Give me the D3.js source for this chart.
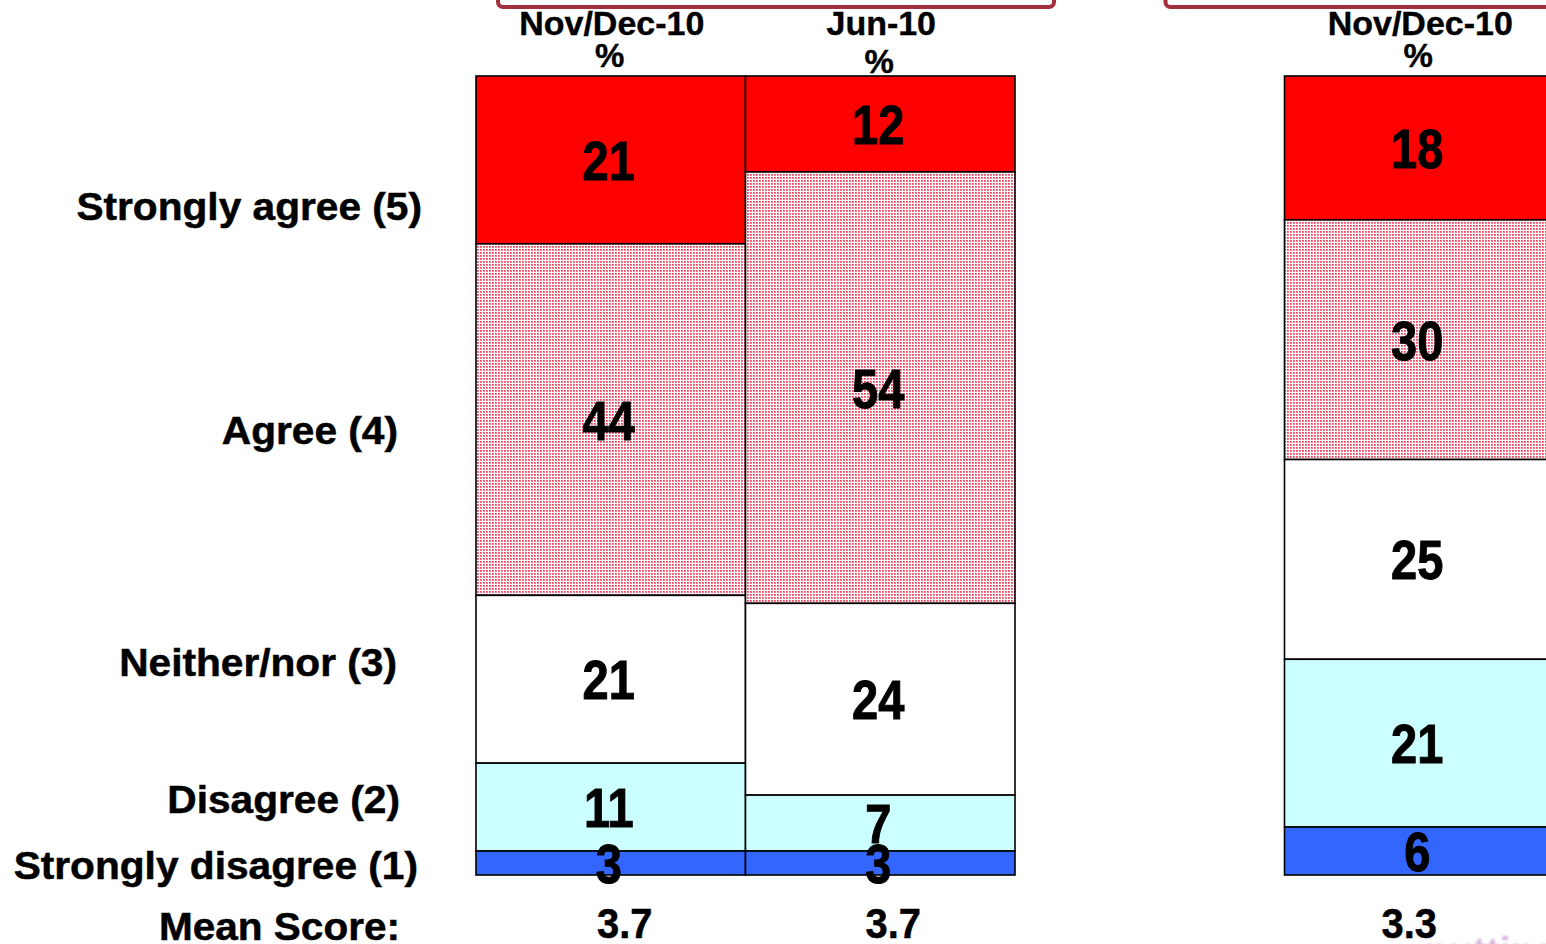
<!DOCTYPE html>
<html>
<head>
<meta charset="utf-8">
<script src="https://cdn.jsdelivr.net/npm/d3@7"></script>
<style>
  html, body { margin: 0; padding: 0; background: #ffffff; }
  svg { display: block; }
  text { font-family: "Liberation Sans", Arial, sans-serif; font-weight: bold; fill: #000; }
</style>
</head>
<body>
<svg id="chart" width="1546" height="944"></svg>
<script>
// Response categories, top of the stack first
const categories = ["Strongly agree (5)", "Agree (4)", "Neither/nor (3)", "Disagree (2)", "Strongly disagree (1)"];
// Survey waves (one stacked column each); the empty slot separates the two panels
const waves = ["Nov/Dec-10", "Jun-10", "Nov/Dec-10"];
const slots = ["a", "b", "gap", "c"];
const waveSlot = ["a", "b", "c"];
// Percentages per category, one value per wave
const stronglyAgree    = [21, 12, 18];
const agree            = [44, 54, 30];
const neither          = [21, 24, 25];
const disagree         = [11, 7, 21];
const stronglyDisagree = [3, 3, 6];
const meanScores       = ["3.7", "3.7", "3.3"];
const meanLabel = "Mean Score:";

const seriesValues = [stronglyAgree, agree, neither, disagree, stronglyDisagree];

const svg = d3.select("#chart");
const defs = svg.append("defs");

// fine dotted fill used for "Agree"
const pat = defs.append("pattern")
  .attr("id", "dots").attr("patternUnits", "userSpaceOnUse")
  .attr("width", 3).attr("height", 3);
pat.append("rect").attr("width", 3).attr("height", 3).attr("fill", "#ffffff")
  .attr("shape-rendering", "crispEdges");
pat.append("rect").attr("x", 0).attr("y", 0).attr("width", 2).attr("height", 2).attr("fill", "#f7788a")
  .attr("shape-rendering", "crispEdges");
pat.append("rect").attr("x", 0).attr("y", 0).attr("width", 1).attr("height", 1).attr("fill", "#ee3a55")
  .attr("shape-rendering", "crispEdges");

const fills = ["#ff0000", "url(#dots)", "#ffffff", "#ccffff", "#3366ff"];

const x = d3.scaleBand().domain(slots).range([476, 1554]).padding(0);
const y = d3.scaleLinear().domain([0, 100]).range([76, 875]);

// panel brackets at the top (left edge, right edge of each panel frame)
const brackets = [
  [x("a") + 22, x("b") + x.bandwidth() + 39],
  [x("c") - 119, x("c") + x.bandwidth() + 120]
];
svg.append("g").selectAll("rect").data(brackets).join("rect")
  .attr("x", d => d[0])
  .attr("y", -40)
  .attr("width", d => d[1] - d[0])
  .attr("height", 47)
  .attr("rx", 5)
  .attr("fill", "none")
  .attr("stroke", "#a3303e")
  .attr("stroke-width", 4);

// stacked segments
const stacks = waves.map((w, i) => {
  let acc = 0;
  return seriesValues.map((s, k) => {
    const seg = { wave: i, cat: k, v: s[i], y0: acc, y1: acc + s[i] };
    acc += s[i];
    return seg;
  });
});

const segs = stacks.flat();
svg.append("g").selectAll("rect").data(segs).join("rect")
  .attr("x", d => x(waveSlot[d.wave]))
  .attr("y", d => y(d.y0))
  .attr("width", x.bandwidth())
  .attr("height", d => y(d.y1) - y(d.y0))
  .attr("fill", d => fills[d.cat])
  .attr("stroke", "#000")
  .attr("stroke-width", 1.6);

// value labels, condensed bold digits centred in each segment
const numSize = 56;
svg.append("g").selectAll("text").data(segs).join("text")
  .attr("transform", d => `translate(${x(waveSlot[d.wave]) + x.bandwidth() / 2 - 2},${(y(d.y0) + y(d.y1)) / 2 + numSize * 0.358}) scale(0.84,1)`)
  .attr("text-anchor", "middle")
  .style("font-size", numSize + "px")
  .style("stroke", "#000").style("stroke-width", "1px")
  .text(d => d.v);

// column headers
const hdr = svg.append("g");
waves.forEach((w, i) => {
  const cx = x(waveSlot[i]) + x.bandwidth() / 2;
  hdr.append("text").attr("transform", `translate(${cx + 1},35) scale(1.03,1)`)
    .attr("text-anchor", "middle").style("font-size", "33px")
    .style("stroke", "#000").style("stroke-width", "0.4px").text(w);
  hdr.append("text").attr("x", cx - 1).attr("y", i === 1 ? 73 : 67)
    .attr("text-anchor", "middle").style("font-size", "33px")
    .style("stroke", "#000").style("stroke-width", "0.4px").text("%");
});

// category labels on the left
const labelLayout = [
  { right: 422, cy: 206 },
  { right: 398, cy: 430 },
  { right: 397, cy: 662 },
  { right: 400, cy: 799 },
  { right: 418, cy: 865 }
];
const labSize = 38;
svg.append("g").selectAll("text").data(categories).join("text")
  .attr("transform", (d, i) => `translate(${labelLayout[i].right},${labelLayout[i].cy + labSize * 0.358}) scale(1.07,1)`)
  .attr("text-anchor", "end")
  .style("font-size", labSize + "px")
  .style("stroke", "#000").style("stroke-width", "0.5px")
  .text(d => d);

// mean score row
svg.append("text")
  .attr("transform", `translate(400,${926 + 39 * 0.358}) scale(1.04,1)`)
  .attr("text-anchor", "end").style("font-size", "39px")
  .style("stroke", "#000").style("stroke-width", "0.5px").text(meanLabel);
const meanShift = [14, 13, -10];
svg.append("g").selectAll("text").data(meanScores).join("text")
  .attr("transform", (d, i) => `translate(${x(waveSlot[i]) + x.bandwidth() / 2 + meanShift[i]},938) scale(0.95,1)`)
  .attr("text-anchor", "middle").style("font-size", "42px")
  .style("stroke", "#000").style("stroke-width", "0.5px").text(d => d);

// faint bleed-through text at the bottom edge
defs.append("filter").attr("id", "soft").append("feGaussianBlur").attr("stdDeviation", 1.2);
svg.append("text").attr("x", 1424).attr("y", 966)
  .style("font-size", "40px").style("fill", "#d9b3dc").attr("filter", "url(#soft)")
  .text("putting");
</script>
</body>
</html>
